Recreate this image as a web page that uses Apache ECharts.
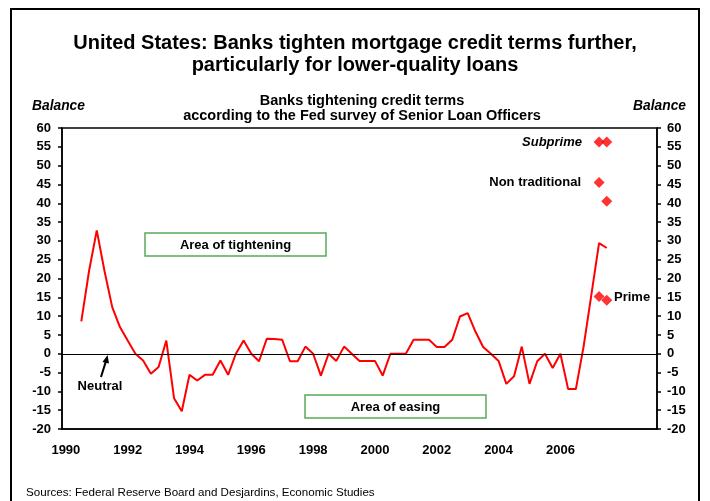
<!DOCTYPE html>
<html><head><meta charset="utf-8">
<script src="https://cdn.jsdelivr.net/npm/echarts@6/dist/echarts.min.js"></script>
<style>html,body{margin:0;padding:0;background:#fff}#c{width:710px;height:501px}</style>
</head><body><div id="c"></div>
<script>
// quarterly categories 1990Q1 .. 2009Q1
const quarters = [];
for (let y = 1990; y <= 2009; y++) for (let q = 1; q <= 4; q++) quarters.push(y + 'Q' + q);
quarters.length = 77;

const yearLabels = ['1990','1992','1994','1996','1998','2000','2002','2004','2006'];

// Net balance of banks tightening mortgage credit terms (quarterly)
const tightening = [
  null, null, 8.6, 22, 32.8, 22, 12.4, 7.1,
  3.5, 0, -1.8, -5.3, -3.5, 3.5, -11.8, -15.3,
  -5.6, -7.1, -5.6, -5.6, -1.8, -5.6, 0, 3.5,
  0, -2.0, 4.0, 3.9, 3.7, -2.0, -2.0, 1.9,
  0, -5.8, 0, -1.9, 1.9, 0, -1.9, -1.9,
  -1.9, -5.8, 0, 0, 0, 3.7, 3.7, 3.7,
  1.8, 1.8, 3.7, 9.9, 10.8, 5.9, 1.8, 0,
  -1.9, -8.0, -6.0, 1.9, -8.0, -2.0, 0, -3.8,
  0, -9.4, -9.4, 1.9, 15.6, 29.4, 28.1
];

const surveyQuarters = ['2007Q2', '2007Q3'];
const subprimeVals = [56.3, 56.3];
const nonTraditionalVals = [45.5, 40.5];
const primeVals = [15.2, 14.2];

const F = 'Liberation Sans, Arial, sans-serif';
const chart = echarts.init(document.getElementById('c'));

function yAxisCfg(pos, margin) {
  return {
    type: 'value', position: pos, min: -20, max: 60, interval: 5,
    axisLine: { show: true, lineStyle: { color: '#000', width: 1.5 } },
    axisTick: { show: true, inside: false, length: 4, lineStyle: { color: '#000', width: 1.5 } },
    splitLine: { show: false },
    axisLabel: { color: '#000', fontWeight: 'bold', fontSize: 13, fontFamily: F, margin: margin }
  };
}

const diamond = (name, vals) => ({
  name: name, type: 'scatter', symbol: 'diamond', symbolSize: 11,
  itemStyle: { color: '#FF0000' },
  data: surveyQuarters.map((q, i) => [q, vals[i]]),
  z: 5
});

chart.setOption({
  animation: false,
  backgroundColor: '#fff',
  title: [
    { text: 'United States: Banks tighten mortgage credit terms further,\nparticularly for lower-quality loans',
      left: 'center', top: 27,
      textStyle: { fontFamily: F, fontSize: 20, fontWeight: 'bold', color: '#000', lineHeight: 22 } },
    { text: 'Banks tightening credit terms\naccording to the Fed survey of Senior Loan Officers',
      left: 357, textAlign: 'center', top: 88,
      textStyle: { fontFamily: F, fontSize: 14.5, fontWeight: 'bold', color: '#000', lineHeight: 15.5 } }
  ],
  grid: { left: 62, right: 53, top: 128, bottom: 72, show: true, borderColor: '#000', borderWidth: 1.5 },
  xAxis: {
    type: 'category', data: quarters, boundaryGap: true,
    axisLine: { show: true, lineStyle: { color: '#000', width: 1.5 }, onZero: false },
    axisTick: { show: false },
    axisLabel: {
      color: '#000', fontWeight: 'bold', fontSize: 13, fontFamily: F, margin: 15,
      interval: (idx, val) => val.endsWith('Q1') && yearLabels.includes(val.slice(0, 4)),
      formatter: v => v.slice(0, 4)
    }
  },
  yAxis: [yAxisCfg('left', 11), yAxisCfg('right', 10)],
  series: [
    {
      name: 'Tightening', type: 'line', data: tightening, showSymbol: false, symbol: 'none',
      lineStyle: { color: '#FF0000', width: 2 }, z: 4,
      markLine: {
        silent: true, symbol: 'none', label: { show: false },
        lineStyle: { color: '#000', width: 1, type: 'solid' },
        data: [{ yAxis: 0 }]
      }
    },
    diamond('Subprime', subprimeVals),
    diamond('Non traditional', nonTraditionalVals),
    diamond('Prime', primeVals)
  ],
  graphic: [
    { type: 'rect', shape: { x: 11, y: 9, width: 688, height: 560 }, style: { fill: 'none', stroke: '#000', lineWidth: 2 } },
    { type: 'text', left: 32, top: 99, style: { text: 'Balance', font: 'italic bold 13.8px ' + F, fill: '#000' } },
    { type: 'text', right: 24, top: 99, style: { text: 'Balance', font: 'italic bold 13.8px ' + F, fill: '#000' } },
    { type: 'rect', shape: { x: 145, y: 233, width: 181, height: 23 }, style: { fill: '#fff', stroke: '#5aa95a', lineWidth: 1.5 }, z: 10 },
    { type: 'text', x: 235.5, y: 245, style: { text: 'Area of tightening', font: 'bold 13px ' + F, fill: '#000', align: 'center', verticalAlign: 'middle' }, z: 11 },
    { type: 'rect', shape: { x: 305, y: 395, width: 181, height: 23 }, style: { fill: '#fff', stroke: '#5aa95a', lineWidth: 1.5 }, z: 10 },
    { type: 'text', x: 395.5, y: 407, style: { text: 'Area of easing', font: 'bold 13px ' + F, fill: '#000', align: 'center', verticalAlign: 'middle' }, z: 11 },
    { type: 'text', x: 100, y: 386.5, style: { text: 'Neutral', font: 'bold 13px ' + F, fill: '#000', align: 'center', verticalAlign: 'middle' }, z: 11 },
    { type: 'line', shape: { x1: 101, y1: 377, x2: 106, y2: 361 }, style: { stroke: '#000', lineWidth: 2 }, z: 11 },
    { type: 'polygon', shape: { points: [[107.6, 355], [102.5, 362], [109, 363.5]] }, style: { fill: '#000' }, z: 11 },
    { type: 'text', x: 582, y: 142, style: { text: 'Subprime', font: 'italic bold 13px ' + F, fill: '#000', align: 'right', verticalAlign: 'middle' }, z: 11 },
    { type: 'text', x: 581, y: 182, style: { text: 'Non traditional', font: 'bold 13px ' + F, fill: '#000', align: 'right', verticalAlign: 'middle' }, z: 11 },
    { type: 'text', x: 614, y: 297, style: { text: 'Prime', font: 'bold 13px ' + F, fill: '#000', align: 'left', verticalAlign: 'middle' }, z: 11 },
    { type: 'text', x: 26, y: 492.5, style: { text: 'Sources: Federal Reserve Board and Desjardins, Economic Studies', font: '11.6px ' + F, fill: '#000', align: 'left', verticalAlign: 'middle' }, z: 11 }
  ]
});
</script>
</body></html>
